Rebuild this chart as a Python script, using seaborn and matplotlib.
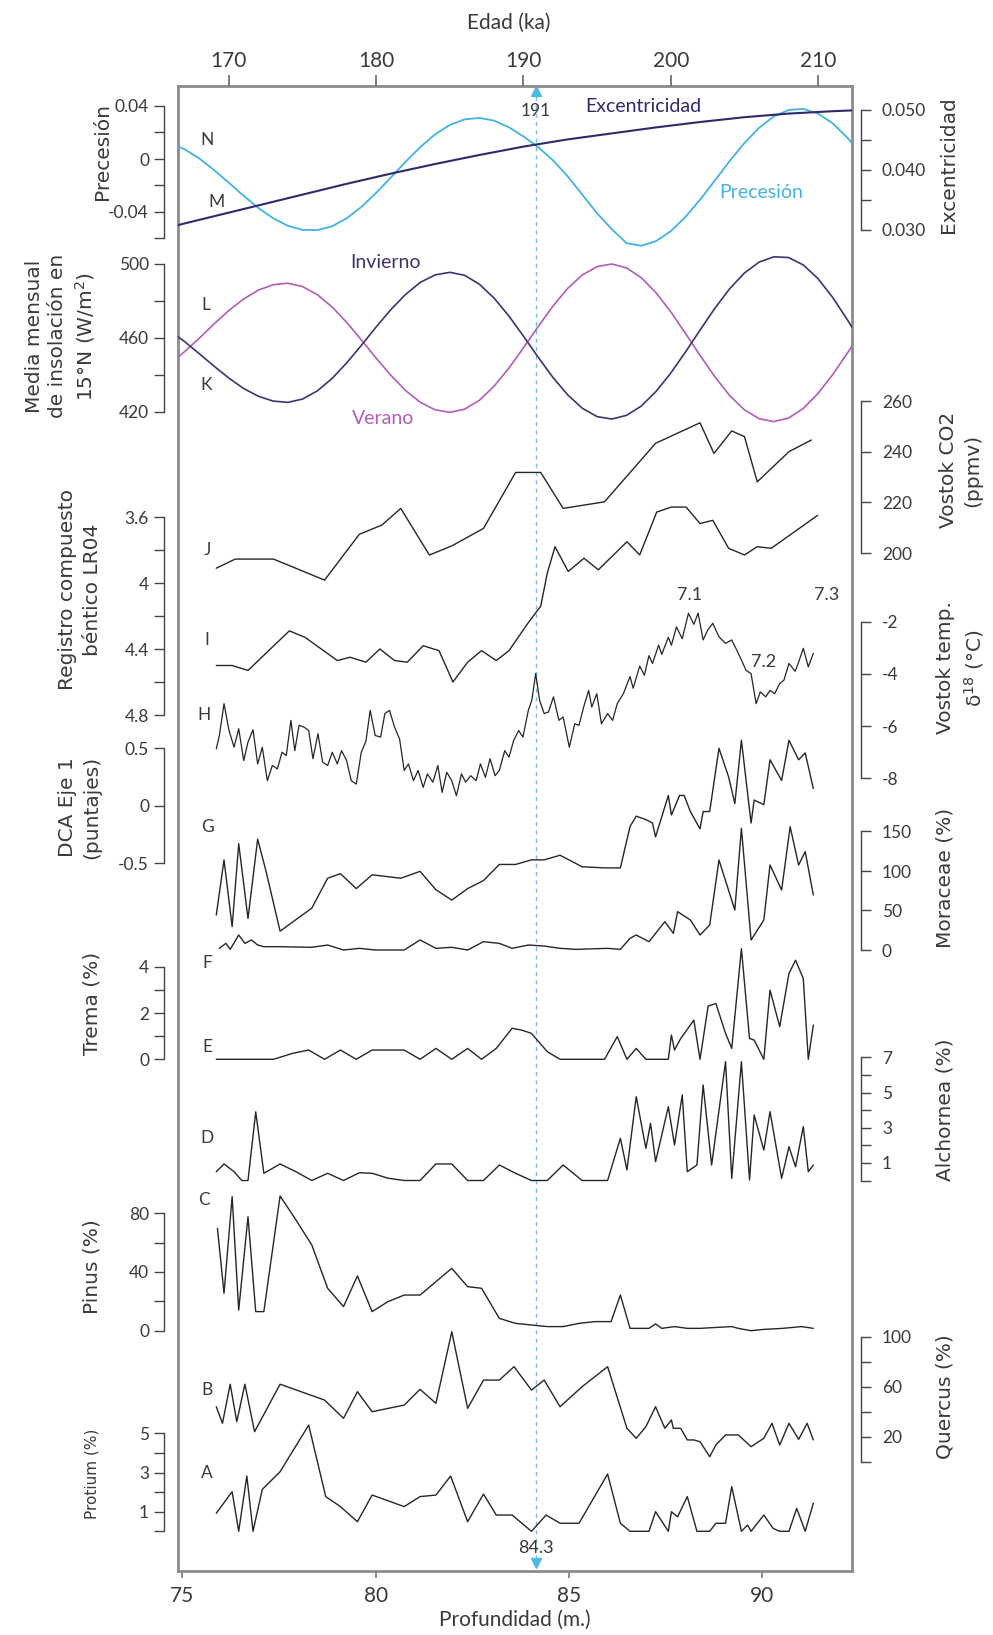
import matplotlib
matplotlib.use("Agg")
import matplotlib.pyplot as plt
import seaborn as sns

sns.set_theme(style="white")
plt.rcParams["font.family"] = ["Lato", "DejaVu Sans"]

# ---------------- data ----------------
AGE_ORB = list(range(166, 214))
PRECESSION = [0.0120, 0.0073, 0.0003, -0.0084, -0.0180, -0.0278, -0.0370, -0.0447, -0.0504, -0.0535,
              -0.0537, -0.0508, -0.0447, -0.0361, -0.0255, -0.0139, -0.0020, 0.0091, 0.0186, 0.0257,
              0.0299, 0.0310, 0.0290, 0.0240, 0.0170, 0.0090, -0.0010, -0.0130, -0.0270, -0.0410,
              -0.0530, -0.0635, -0.0655, -0.0620, -0.0545, -0.0437, -0.0306, -0.0162, -0.0016, 0.0120,
              0.0236, 0.0321, 0.0370, 0.0378, 0.0343, 0.0269, 0.0160, 0.0028]
INS_WINTER = [463.9, 458.0, 451.4, 444.7, 438.3, 432.7, 428.5, 425.9, 425.2, 427.0, 431.4, 438.1,
              446.6, 456.1, 466.0, 475.4, 483.6, 490.1, 494.1, 495.5, 493.9, 489.1, 481.6, 472.0,
              461.0, 449.6, 438.7, 429.3, 422.0, 417.5, 416.2, 418.2, 423.2, 431.1, 441.0, 452.4,
              464.4, 476.1, 486.6, 495.1, 501.0, 503.9, 503.5, 499.5, 492.1, 481.9, 469.8, 456.8]
INS_SUMMER = [446.1, 452.7, 460.0, 467.7, 474.9, 481.1, 485.9, 488.8, 489.6, 487.8, 483.4, 476.8,
              468.4, 458.9, 449.1, 439.8, 431.6, 425.2, 421.2, 419.8, 421.5, 426.3, 433.9, 443.6,
              454.7, 466.2, 477.2, 486.8, 494.1, 498.6, 500.0, 497.9, 492.6, 484.5, 474.2, 462.5,
              450.5, 439.0, 428.9, 421.2, 416.4, 414.8, 416.7, 421.9, 430.0, 440.2, 451.9, 464.1]
AGE_ECC = [166, 169, 172, 175, 178, 181, 184, 187, 190, 193, 196, 199, 202, 205, 208, 211, 213]
ECCENTRICITY = [0.0305, 0.0323, 0.0341, 0.0359, 0.0377, 0.0394, 0.0410, 0.0425, 0.0439, 0.0451,
                0.0461, 0.0471, 0.0480, 0.0488, 0.0494, 0.0498, 0.0500]

CO2_DEPTH = [75.88, 76.37, 77.36, 78.68, 79.58, 80.16, 80.65, 81.39, 81.97, 82.79, 83.62, 84.27, 84.85,
             85.92, 87.24, 88.39, 88.75, 89.21, 89.54, 89.87, 90.69, 91.27]
CO2_PPMV = [194.0, 197.6, 197.6, 189.3, 207.4, 211.0, 217.6, 199.2, 202.8, 209.7, 231.8, 231.8, 217.6,
            220.2, 243.3, 251.4, 239.3, 248.2, 245.9, 228.1, 240.0, 244.6]

LR04_DEPTH = [75.88, 76.29, 76.70, 77.77, 78.18, 79.01, 79.34, 79.75, 80.11, 80.49, 80.82, 81.23, 81.64,
              82.00, 82.38, 82.74, 83.12, 83.45, 83.95, 84.27, 84.44, 84.64, 84.98, 85.39, 85.76, 86.50,
              86.83, 87.27, 87.65, 88.03, 88.39, 88.72, 89.13, 89.54, 89.87, 90.23, 91.43]
LR04 = [4.50, 4.50, 4.53, 4.29, 4.33, 4.47, 4.45, 4.48, 4.40, 4.47, 4.48, 4.38, 4.41, 4.60, 4.48, 4.41,
        4.47, 4.41, 4.24, 4.14, 3.94, 3.78, 3.93, 3.85, 3.92, 3.75, 3.83, 3.57, 3.54, 3.54, 3.64, 3.62,
        3.79, 3.83, 3.78, 3.79, 3.59]

VT_DEPTH = [75.88, 75.96, 76.08, 76.21, 76.34, 76.46, 76.59, 76.70, 76.83, 76.95, 77.07, 77.20, 77.33,
            77.46, 77.58, 77.69, 77.81, 77.91, 78.02, 78.15, 78.27, 78.38, 78.51, 78.63, 78.76, 78.88,
            79.01, 79.12, 79.25, 79.37, 79.50, 79.63, 79.75, 79.86, 79.99, 80.13, 80.24, 80.36, 80.49,
            80.62, 80.74, 80.85, 80.98, 81.10, 81.23, 81.34, 81.48, 81.61, 81.72, 81.84, 81.97, 82.09,
            82.22, 82.33, 82.46, 82.60, 82.71, 82.84, 82.96, 83.09, 83.20, 83.34, 83.45, 83.57, 83.70,
            83.81, 83.95, 84.04, 84.14, 84.24, 84.36, 84.47, 84.60, 84.74, 84.85, 85.01, 85.15, 85.26,
            85.38, 85.51, 85.59, 85.72, 85.84, 86.00, 86.13, 86.25, 86.41, 86.58, 86.66, 86.83, 86.95,
            87.07, 87.16, 87.32, 87.40, 87.57, 87.65, 87.78, 87.93, 88.09, 88.23, 88.34, 88.47, 88.59,
            88.72, 88.88, 89.05, 89.21, 89.34, 89.46, 89.58, 89.71, 89.84, 89.95, 90.09, 90.20, 90.32,
            90.45, 90.56, 90.69, 90.85, 90.94, 91.06, 91.19, 91.32]
VT_TEMP = [-6.87, -6.36, -5.14, -6.17, -6.81, -6.10, -7.32, -6.61, -6.14, -7.45, -6.81, -8.09, -7.51,
           -7.64, -7.00, -7.13, -5.78, -6.94, -5.97, -6.04, -6.17, -7.25, -6.29, -7.38, -7.51, -7.00,
           -7.45, -6.94, -7.32, -8.09, -8.22, -7.00, -6.58, -5.40, -6.36, -6.42, -5.52, -5.40, -6.04,
           -6.49, -7.70, -7.45, -8.09, -7.70, -8.35, -7.83, -8.15, -7.51, -8.54, -7.77, -8.09, -8.67,
           -7.83, -8.15, -7.90, -8.09, -7.45, -7.96, -7.25, -7.90, -7.70, -6.94, -7.19, -6.55, -6.17,
           -6.42, -5.40, -5.01, -3.98, -5.01, -5.52, -5.46, -4.88, -5.78, -5.65, -6.81, -5.91, -5.97,
           -5.27, -4.63, -5.27, -4.76, -5.91, -5.52, -5.78, -5.14, -4.75, -4.10, -4.55, -3.70, -4.05,
           -3.30, -3.60, -2.90, -3.25, -2.60, -2.90, -2.20, -2.65, -1.68, -2.10, -1.67, -2.70, -2.32,
           -2.06, -2.58, -2.83, -2.70, -3.09, -3.47, -3.86, -3.99, -5.14, -4.69, -4.88, -4.63, -4.76,
           -4.37, -4.24, -3.60, -3.90, -3.55, -3.02, -3.73, -3.21]

DCA_DEPTH = [75.88, 76.08, 76.29, 76.46, 76.70, 76.95, 77.16, 77.53, 78.35, 78.76, 79.09, 79.50, 79.91,
             80.65, 81.15, 81.56, 81.97, 82.38, 82.79, 83.20, 83.62, 84.03, 84.36, 84.77, 85.34, 85.92,
             86.33, 86.58, 86.74, 86.99, 87.16, 87.24, 87.57, 87.65, 87.86, 87.98, 88.14, 88.39, 88.47,
             88.64, 88.88, 89.13, 89.29, 89.46, 89.71, 89.79, 90.04, 90.20, 90.50, 90.69, 90.94, 91.11,
             91.32]
DCA_AXIS1 = [-0.95, -0.47, -1.05, -0.33, -0.98, -0.29, -0.56, -1.09, -0.89, -0.63, -0.59, -0.72, -0.60,
             -0.63, -0.57, -0.73, -0.82, -0.72, -0.65, -0.51, -0.51, -0.47, -0.47, -0.43, -0.53, -0.54,
             -0.54, -0.18, -0.09, -0.12, -0.15, -0.27, 0.09, -0.08, 0.09, 0.09, -0.05, -0.20, -0.05,
             -0.05, 0.50, 0.25, 0.02, 0.57, -0.15, 0.05, 0.01, 0.40, 0.22, 0.57, 0.40, 0.46, 0.15]

MOR_DEPTH = [75.96, 76.13, 76.24, 76.46, 76.62, 76.79, 76.95, 77.11, 77.53, 78.35, 78.76, 79.17, 79.58,
             79.99, 80.74, 81.15, 81.56, 81.97, 82.38, 82.79, 83.20, 83.53, 83.95, 84.36, 84.77, 85.18,
             86.00, 86.33, 86.58, 86.74, 87.07, 87.48, 87.70, 87.81, 88.14, 88.39, 88.64, 88.88, 89.29,
             89.46, 89.71, 90.04, 90.20, 90.50, 90.72, 90.94, 91.11, 91.32]
MORACEAE = [2.1, 8.4, 0.8, 19.0, 8.4, 12.7, 6.3, 4.2, 4.2, 3.4, 6.3, 0.0, 2.1, 0.0, 0.0, 12.7, 2.1, 3.4,
            0.0, 10.5, 8.4, 2.1, 6.3, 5.0, 2.1, 0.8, 2.1, 0.8, 14.8, 19.0, 10.5, 35.9, 21.1, 48.5, 38.0,
            19.0, 31.6, 113.9, 50.6, 154.0, 12.7, 38.0, 107.6, 75.9, 156.0, 107.6, 124.5, 69.6]

TREMA_DEPTH = [75.88, 77.36, 77.86, 78.27, 78.68, 79.09, 79.50, 79.91, 80.74, 81.15, 81.56, 81.97,
               82.38, 82.74, 83.12, 83.53, 83.78, 84.03, 84.44, 84.77, 85.92, 86.25, 86.50, 86.74,
               86.99, 87.57, 87.65, 87.73, 87.89, 88.23, 88.39, 88.60, 88.80, 89.05, 89.21, 89.46,
               89.67, 89.79, 90.04, 90.20, 90.45, 90.69, 90.86, 91.06, 91.19, 91.32]
TREMA = [0, 0, 0.26, 0.40, 0, 0.40, 0, 0.40, 0.40, 0, 0.47, 0, 0.47, 0, 0.47, 1.34, 1.26, 1.12, 0.33,
         0, 0, 0.98, 0, 0.47, 0, 0, 1.05, 0.40, 0.90, 1.69, 0, 2.30, 2.41, 1.12, 0.47, 4.78, 0.90, 0.83,
         0, 2.99, 1.41, 3.71, 4.28, 3.49, 0, 1.48]

ALCH_DEPTH = [75.88, 76.08, 76.34, 76.54, 76.70, 76.90, 77.11, 77.53, 77.94, 78.35, 78.76, 79.17, 79.58,
              79.91, 80.32, 80.74, 81.15, 81.56, 81.97, 82.38, 82.79, 83.20, 83.62, 84.03, 84.44, 84.85,
              85.34, 86.00, 86.33, 86.50, 86.74, 86.99, 87.11, 87.24, 87.57, 87.73, 87.93, 88.06, 88.31,
              88.47, 88.69, 89.05, 89.21, 89.46, 89.67, 89.79, 90.04, 90.20, 90.50, 90.69, 90.86, 91.06,
              91.19, 91.32]
ALCHORNEA = [0.5, 0.94, 0.5, 0, 0, 3.9, 0.41, 0.94, 0.5, 0, 0.41, 0, 0.44, 0.41, 0.13, 0, 0, 0.94, 0.94,
             0, 0, 0.88, 0.41, 0, 0, 0.88, 0, 0, 2.40, 0.60, 4.76, 1.83, 3.25, 1.07, 4.19, 2.02, 4.86, 0.5,
             0.88, 5.43, 0.88, 6.75, 0.12, 6.75, 0.03, 3.72, 1.73, 3.91, 0.12, 1.92, 0.78, 3.06, 0.5, 0.88]

PINUS_DEPTH = [75.91, 76.08, 76.29, 76.46, 76.70, 76.90, 77.11, 77.53, 77.94, 78.35, 78.76, 79.17, 79.53,
               79.91, 80.32, 80.74, 81.15, 81.97, 82.38, 82.74, 83.20, 83.62, 84.03, 84.44, 84.85, 85.26,
               85.67, 86.09, 86.33, 86.58, 87.07, 87.24, 87.40, 87.73, 88.06, 88.39, 89.21, 89.38, 89.71,
               90.04, 90.53, 91.02, 91.32]
PINUS = [69.8, 25.5, 91.4, 14.1, 77.7, 13.0, 13.0, 91.8, 75.5, 58.4, 28.9, 16.4, 37.3, 13.0, 19.8, 24.3,
         24.3, 42.5, 30.0, 28.9, 8.4, 5.0, 3.9, 2.8, 2.8, 5.0, 6.2, 6.2, 24.3, 1.6, 1.6, 4.6, 1.6, 2.8,
         1.6, 1.6, 2.8, 1.6, 0.0, 0.9, 1.6, 2.8, 1.6]

QUER_DEPTH = [75.88, 76.04, 76.24, 76.41, 76.62, 76.87, 77.53, 78.68, 79.17, 79.53, 79.91, 80.74, 81.15,
              81.56, 81.97, 82.38, 82.79, 83.20, 83.58, 84.03, 84.36, 84.77, 85.34, 86.00, 86.50, 86.74,
              86.99, 87.24, 87.48, 87.65, 87.70, 87.89, 88.06, 88.23, 88.39, 88.64, 88.80, 89.05, 89.38,
              89.71, 90.04, 90.25, 90.45, 90.69, 90.94, 91.16, 91.32]
QUERCUS = [44, 30.7, 62, 32, 62, 24, 62, 49.3, 34.7, 56, 40, 45.3, 57.9, 46.7, 104, 42.7, 65.3, 65.3, 76,
           57.3, 65.3, 44, 60, 76, 26.7, 18.7, 28, 44, 26.7, 33.4, 26.7, 26.7, 17.4, 17.4, 16, 4, 13.4,
           21.4, 21.4, 12, 18.7, 30.7, 13.4, 30.7, 17.9, 30.7, 17.4]

PROT_DEPTH = [75.88, 76.29, 76.46, 76.67, 76.83, 77.07, 77.53, 78.27, 78.71, 79.09, 79.53, 79.91, 80.74,
              81.15, 81.56, 81.94, 82.38, 82.79, 83.12, 83.53, 84.03, 84.41, 84.77, 85.26, 86.00, 86.33,
              86.58, 87.07, 87.24, 87.57, 87.65, 87.81, 88.06, 88.31, 88.64, 88.80, 89.05, 89.21, 89.46,
              89.62, 89.71, 90.04, 90.28, 90.45, 90.69, 90.89, 91.11, 91.32]
PROTIUM = [0.92, 2.02, 0, 2.82, 0, 2.14, 3.04, 5.42, 1.77, 1.26, 0.49, 1.85, 1.26, 1.77, 1.85, 2.82, 0.49,
           1.90, 0.83, 0.83, 0, 0.83, 0.41, 0.41, 2.92, 0.41, 0, 0, 1.0, 0, 1.0, 0.74, 1.77, 0, 0, 0.41,
           0.41, 2.28, 0, 0.32, 0, 0.83, 0.15, 0, 0, 1.17, 0, 1.43]

DEPTH_TICKS = [75, 80, 85, 90]
AGE_TICKS = [170, 180, 190, 200, 210]
MARK_DEPTH = 84.15
MARK_AGE_LABEL = "191"
MARK_DEPTH_LABEL = "84.3"

# ---------------- layout ----------------
W, H = 993, 1635
FL, FR, FT, FB = 178, 852, 86, 1571
DEPTH_LIM = (74.89, 92.32)
AGE_LIM = (166.54, 212.31)
RECT = [FL / W, 1 - FB / H, (FR - FL) / W, (FB - FT) / H]
AXC = "#444444"
TXC = "#3a3a3a"
LBL_FONT = ["DejaVu Sans"]


def pt(px):
    return px * 0.72


fig = plt.figure(figsize=(W / 100, H / 100), dpi=100)


def ftext(x, y, s, **kw):
    return fig.text(x / W, 1 - y / H, s, **kw)


def band(xlim, v1, p1, v2, p2, side, bounds, ticks, labels, series, lsize=12.5):
    ax = fig.add_axes(RECT)
    for xs, ys, col, lw in series:
        sns.lineplot(x=xs, y=ys, ax=ax, color=col, linewidth=lw, sort=False,
                     estimator=None, legend=False)
    ax.set_xlim(*xlim)
    k = (v2 - v1) / (p2 - p1)
    ax.set_ylim(v1 + (FB - p1) * k, v1 + (FT - p1) * k)
    ax.patch.set_visible(False)
    for s in ax.spines.values():
        s.set_visible(False)
    ax.set_xticks([])
    ax.set_xlabel("")
    ax.set_ylabel("")
    sp = ax.spines[side]
    sp.set_visible(True)
    sp.set_bounds(min(bounds), max(bounds))
    sp.set_color(AXC)
    sp.set_linewidth(1.0)
    ax.set_yticks(ticks)
    ax.set_yticklabels(labels)
    if side == "left":
        sp.set_position(("outward", pt(14)))
        ax.tick_params(axis="y", left=True, right=False, labelleft=True, labelright=False,
                       pad=pt(5))
    else:
        sp.set_position(("outward", pt(9)))
        ax.tick_params(axis="y", left=False, right=True, labelleft=False, labelright=True,
                       pad=pt(11))
    ax.tick_params(axis="y", direction="out", length=pt(10), width=1.0, color=AXC,
                   labelsize=lsize, labelcolor=TXC)
    ax.grid(False)
    return ax


# ---------------- frame ----------------
ax0 = fig.add_axes(RECT)
ax0.set_xlim(*DEPTH_LIM)
ax0.set_ylim(0, 1)
ax0.set_yticks([])
ax0.set_xticks(DEPTH_TICKS)
ax0.set_xticklabels([str(t) for t in DEPTH_TICKS])
ax0.tick_params(axis="x", bottom=True, direction="out", length=pt(7), width=1.2, color="#777777",
                labelsize=15, labelcolor=TXC, pad=pt(8))
for s in ax0.spines.values():
    s.set_color("#8c8c8c")
    s.set_linewidth(2.0)
ax0.grid(False)

axt = ax0.twiny()
axt.set_xlim(*AGE_LIM)
axt.set_xticks(AGE_TICKS)
axt.set_xticklabels([str(t) for t in AGE_TICKS])
axt.tick_params(axis="x", top=True, bottom=False, direction="out", length=pt(11), width=1.2,
                color="#666666", labelsize=15, labelcolor=TXC, pad=pt(4))
for s in axt.spines.values():
    s.set_visible(False)
axt.patch.set_visible(False)
axt.grid(False)

# dashed marker line and arrows
ax0.axvline(MARK_DEPTH, ymin=0.008, ymax=0.993, color="#6cc3e3", lw=1.0, ls=(0, (3, 3)))
ax0.plot([MARK_DEPTH], [(FB - 91) / (FB - FT)], marker="^", color="#4dbbe0", ms=7, clip_on=False)
ax0.plot([MARK_DEPTH], [(FB - 1563) / (FB - FT)], marker="v", color="#4dbbe0", ms=7, clip_on=False)

# ---------------- bands ----------------
C_PREC = "#43b2e4"
C_ECC = "#2f2a6b"
C_WIN = "#3d3470"
C_SUM = "#b35cb8"
C_LINE = "#262626"

band(AGE_LIM, 0.04, 106, -0.04, 212, "left", (-0.06, 0.04),
     [0.04, 0.02, 0.0, -0.02, -0.04, -0.06], ["0.04", "", "0", "", "-0.04", ""],
     [(AGE_ORB, PRECESSION, C_PREC, 1.3)])
band(AGE_LIM, 0.050, 110, 0.030, 230, "right", (0.030, 0.050),
     [0.050, 0.045, 0.040, 0.035, 0.030], ["0.050", "", "0.040", "", "0.030"],
     [(AGE_ECC, ECCENTRICITY, C_ECC, 1.5)])
band(AGE_LIM, 500, 264, 420, 412, "left", (420, 500),
     [500, 480, 460, 440, 420], ["500", "", "460", "", "420"],
     [(AGE_ORB, INS_SUMMER, C_SUM, 1.2), (AGE_ORB, INS_WINTER, C_WIN, 1.2)])
band(DEPTH_LIM, 260, 401, 200, 553, "right", (200, 260),
     [260, 240, 220, 200], ["260", "240", "220", "200"],
     [(CO2_DEPTH, CO2_PPMV, C_LINE, 1.0)])
band(DEPTH_LIM, 3.6, 517, 4.8, 715, "left", (3.6, 4.8),
     [3.6, 3.8, 4.0, 4.2, 4.4, 4.6, 4.8], ["3.6", "", "4", "", "4.4", "", "4.8"],
     [(LR04_DEPTH, LR04, C_LINE, 1.0)])
band(DEPTH_LIM, -2, 621.7, -8, 778.3, "right", (-8, -2),
     [-2, -4, -6, -8], ["-2", "-4", "-6", "-8"],
     [(VT_DEPTH, VT_TEMP, C_LINE, 0.9)])
band(DEPTH_LIM, 0.5, 748.3, -0.5, 863.3, "left", (-0.5, 0.5),
     [0.5, 0.0, -0.5], ["0.5", "0", "-0.5"],
     [(DCA_DEPTH, DCA_AXIS1, C_LINE, 1.0)])
band(DEPTH_LIM, 150, 831.5, 0, 950, "right", (0, 150),
     [150, 100, 50, 0], ["150", "100", "50", "0"],
     [(MOR_DEPTH, MORACEAE, C_LINE, 1.0)])
band(DEPTH_LIM, 4, 966.7, 0, 1059.3, "left", (0, 4),
     [4, 3, 2, 1, 0], ["4", "", "2", "", "0"],
     [(TREMA_DEPTH, TREMA, C_LINE, 1.0)])
band(DEPTH_LIM, 7, 1057.3, 0, 1180.5, "right", (0, 7),
     [7, 6, 5, 4, 3, 2, 1, 0], ["7", "", "5", "", "3", "", "1", ""],
     [(ALCH_DEPTH, ALCHORNEA, C_LINE, 1.0)])
band(DEPTH_LIM, 80, 1213.3, 0, 1330.7, "left", (0, 80),
     [80, 60, 40, 20, 0], ["80", "", "40", "", "0"],
     [(PINUS_DEPTH, PINUS, C_LINE, 1.0)])
band(DEPTH_LIM, 100, 1336.7, 0, 1461.7, "right", (0, 100),
     [100, 80, 60, 40, 20, 0], ["100", "", "60", "", "20", ""],
     [(QUER_DEPTH, QUERCUS, C_LINE, 1.0)])
band(DEPTH_LIM, 5, 1433.3, 0, 1531.3, "left", (0, 5),
     [5, 4, 3, 2, 1, 0], ["5", "", "3", "", "1", ""],
     [(PROT_DEPTH, PROTIUM, C_LINE, 1.0)])

# ---------------- texts ----------------
ftext(509, 23, "Edad (ka)", ha="center", va="center", fontsize=15, color=TXC)
ftext(515, 1620, "Profundidad (m.)", ha="center", va="center", fontsize=15, color=TXC)

rot = dict(rotation=90, ha="center", va="center", color=TXC, family=LBL_FONT)
ftext(102, 152, "Precesión", fontsize=14.5, **rot)
ftext(61, 336, "Media mensual\nde insolación en\n15°N (W/m$^2$)", fontsize=14.5, linespacing=1.3, **rot)
ftext(80, 590, "Registro compuesto\nbéntico LR04", fontsize=14.5, linespacing=1.35, **rot)
ftext(80, 807, "DCA Eje 1\n(puntajes)", fontsize=14.5, linespacing=1.35, **rot)
ftext(92, 1003, "Trema (%)", fontsize=14.5, **rot)
ftext(92, 1267, "Pinus (%)", fontsize=14.5, **rot)
ftext(92, 1474, "Protium (%)", fontsize=11, **rot)

ftext(948, 165, "Excentricidad", fontsize=14.5, **rot)
ftext(961, 470, "Vostok CO2\n(ppmv)", fontsize=14.5, linespacing=1.35, **rot)
ftext(961, 668, "Vostok temp.\nδ$^{18}$ (°C)", fontsize=14.5, linespacing=1.35, **rot)
ftext(945, 878, "Moraceae (%)", fontsize=14.5, **rot)
ftext(945, 1110, "Alchornea (%)", fontsize=14.5, **rot)
ftext(945, 1397, "Quercus (%)", fontsize=14.5, **rot)

ftext(643, 106, "Excentricidad", ha="center", va="center", fontsize=14, color=C_ECC)
ftext(761, 192, "Precesión", ha="center", va="center", fontsize=14, color=C_PREC)
ftext(385, 263, "Invierno", ha="center", va="center", fontsize=14, color=C_WIN)
ftext(383, 418, "Verano", ha="center", va="center", fontsize=14, color=C_SUM)

ftext(536, 111, MARK_AGE_LABEL, ha="center", va="center", fontsize=12.5, color=TXC)
ftext(536, 1548, MARK_DEPTH_LABEL, ha="center", va="center", fontsize=13, color=TXC)

for s, x, y in [("7.1", 690, 595), ("7.3", 827, 595), ("7.2", 764, 662)]:
    ftext(x, y, s, ha="center", va="center", fontsize=13, color=TXC)

LETTERS = [("N", 207, 140), ("M", 216, 202), ("L", 206, 305), ("K", 206, 385), ("J", 207, 550),
           ("I", 207, 640), ("H", 204, 715), ("G", 207, 827), ("F", 207, 963), ("E", 207, 1047),
           ("D", 207, 1138), ("C", 204, 1200), ("B", 207, 1390), ("A", 207, 1473)]
for s, x, y in LETTERS:
    ftext(x, y, s, ha="center", va="center", fontsize=12.5, color=TXC)

fig.savefig("out.png", dpi=100)
